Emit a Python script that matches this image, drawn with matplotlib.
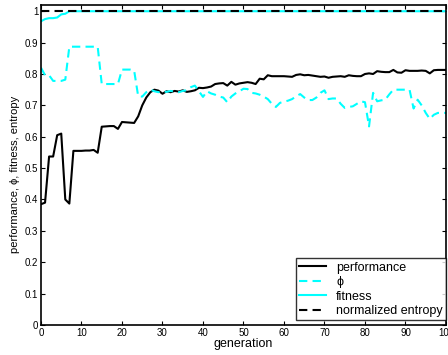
import matplotlib
matplotlib.use("Agg")
import matplotlib.pyplot as plt

plt.rcParams['font.family'] = ['Liberation Sans', 'DejaVu Sans']

generation = list(range(101))

performance = [
    0.385, 0.39, 0.537, 0.537, 0.605, 0.61, 0.40, 0.387, 0.555, 0.555,
    0.555, 0.556, 0.556, 0.558, 0.549, 0.632, 0.633, 0.634, 0.634, 0.625,
    0.647, 0.646, 0.645, 0.644, 0.665, 0.70, 0.725, 0.742, 0.75, 0.747,
    0.737, 0.745, 0.742, 0.746, 0.744, 0.748, 0.743, 0.745, 0.748, 0.756,
    0.755, 0.757, 0.76, 0.768, 0.77, 0.771, 0.763, 0.775, 0.766, 0.77,
    0.772, 0.774, 0.772, 0.768, 0.785, 0.783, 0.796, 0.793, 0.793, 0.793,
    0.793, 0.792, 0.791, 0.797, 0.799, 0.796, 0.797, 0.795, 0.793, 0.791,
    0.792, 0.788, 0.791, 0.792, 0.793, 0.791, 0.796, 0.794, 0.793, 0.793,
    0.80, 0.802, 0.80, 0.809, 0.807, 0.806, 0.806, 0.813, 0.805, 0.804,
    0.812, 0.81, 0.81, 0.81, 0.811, 0.81, 0.802, 0.812, 0.813, 0.813,
    0.813,
]

phi = [
    0.82, 0.796, 0.796, 0.778, 0.778, 0.778, 0.782, 0.887, 0.887, 0.887,
    0.887, 0.887, 0.887, 0.887, 0.887, 0.768, 0.768, 0.768, 0.768, 0.768,
    0.814, 0.814, 0.814, 0.811, 0.729, 0.728, 0.742, 0.75, 0.745, 0.742,
    0.745, 0.743, 0.746, 0.744, 0.742, 0.746, 0.748, 0.758, 0.763, 0.745,
    0.727, 0.745, 0.738, 0.734, 0.728, 0.725, 0.71, 0.728, 0.738, 0.745,
    0.753, 0.752, 0.74, 0.738, 0.734, 0.728, 0.72, 0.705, 0.695, 0.708,
    0.712, 0.715, 0.72, 0.729, 0.736, 0.725, 0.717, 0.717, 0.725, 0.74,
    0.748, 0.72, 0.722, 0.722, 0.705, 0.692, 0.695, 0.697, 0.705, 0.713,
    0.71, 0.633, 0.74, 0.713, 0.716, 0.718, 0.735, 0.75, 0.75, 0.75,
    0.75, 0.75, 0.69, 0.718, 0.70, 0.676, 0.657, 0.67, 0.676, 0.676,
    0.676,
]

fitness = [0.968, 0.975, 0.978, 0.978, 0.98, 0.99, 0.992] + [1.0] * 94

entropy = [1.0] * 101

fig = plt.figure(figsize=(4.48, 3.55), dpi=100)
ax = fig.add_axes([0.0915, 0.0845, 0.904, 0.9015])

ax.plot(generation, performance, color='black', lw=1.5, label='performance')
ax.plot(generation, phi, color='cyan', lw=1.5, ls=(0, (4, 2.5)), label='\u03d5')
ax.plot(generation, fitness, color='cyan', lw=1.5, label='fitness')
ax.plot(generation, entropy, color='black', lw=1.5, ls=(0, (4, 2.5)), label='normalized entropy')

ax.set_xlim(0, 100)
ax.set_ylim(0, 1.02)
ax.set_xticks(range(0, 101, 10))
ax.set_yticks([i / 10 for i in range(11)])
ax.set_yticklabels(['0'] + ['%.1f' % (i / 10) for i in range(1, 10)] + ['1'])
ax.tick_params(direction='in', top=True, right=True, labelsize=7, length=3, width=0.8, pad=2)
for s in ax.spines.values():
    s.set_linewidth(1.2)

ax.set_xlabel('generation', fontsize=9, labelpad=0)
ax.set_ylabel('performance, \u03d5, fitness, entropy', fontsize=8, labelpad=1)
ax.yaxis.set_label_coords(-0.052, 0.47)

leg = ax.legend(loc='lower right', bbox_to_anchor=(1.0, 0.015), fontsize=9,
                frameon=True, fancybox=False, edgecolor='black',
                handlelength=2.2, borderaxespad=0.0, borderpad=0.25,
                labelspacing=0.2, handletextpad=0.8)
leg.get_frame().set_linewidth(1.0)

fig.savefig('out.png', dpi=100)
